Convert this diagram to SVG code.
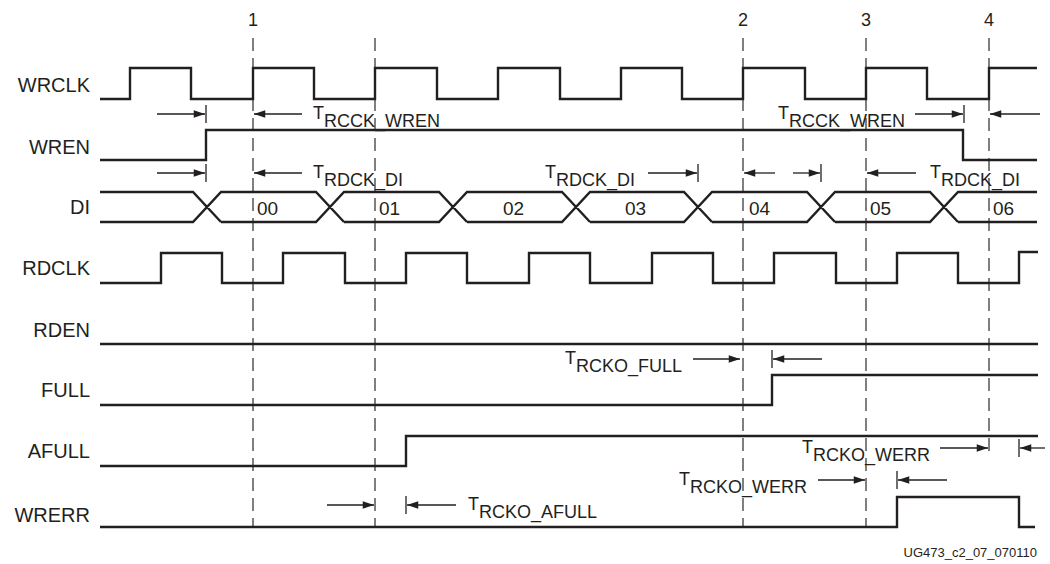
<svg xmlns="http://www.w3.org/2000/svg" width="1050" height="564" viewBox="0 0 1050 564">
<style>
  .bg{fill:#ffffff}
  .wave{fill:none;stroke:#231f20;stroke-width:2.4;stroke-linejoin:miter;stroke-linecap:butt}
  .dash{fill:none;stroke:#555555;stroke-width:1.5;stroke-dasharray:13 7}
  .arr{fill:none;stroke:#231f20;stroke-width:1.3}
  .tick{fill:none;stroke:#231f20;stroke-width:1.3}
  .sig{font-family:"Liberation Sans",Arial,sans-serif;font-size:20px;fill:#231f20;text-anchor:end}
  .num{font-family:"Liberation Sans",Arial,sans-serif;font-size:18px;fill:#231f20;text-anchor:middle}
  .val{font-family:"Liberation Sans",Arial,sans-serif;font-size:19px;fill:#231f20}
  .t{font-family:"Liberation Sans",Arial,sans-serif;font-size:18px;fill:#231f20}
  .foot{font-family:"Liberation Sans",Arial,sans-serif;font-size:13px;fill:#231f20;text-anchor:end}
</style>
<defs>
  <marker id="ah" markerUnits="userSpaceOnUse" viewBox="0 0 12 8" refX="12" refY="4" markerWidth="12" markerHeight="7.5" orient="auto">
    <path d="M0,0 L12,4 L0,8 Z" fill="#231f20"/>
  </marker>
</defs>
<rect class="bg" x="0" y="0" width="1050" height="564"/>

<g id="markers">
  <g id="m1"><text class="num" x="253" y="26">1</text><line class="dash" x1="253" y1="38" x2="253" y2="528"/></g>
  <g id="m0"><line class="dash" x1="375" y1="38" x2="375" y2="528"/></g>
  <g id="m2"><text class="num" x="743" y="26">2</text><line class="dash" x1="743" y1="38" x2="743" y2="528"/></g>
  <g id="m3"><text class="num" x="866" y="26">3</text><line class="dash" x1="866" y1="38" x2="866" y2="528"/></g>
  <g id="m4"><text class="num" x="989" y="26">4</text><line class="dash" x1="989" y1="38" x2="989" y2="458"/></g>
</g>

<g id="wrclk">
  <text class="sig" x="90" y="92">WRCLK</text>
  <path class="wave" d="M100,99 H130 V68 H191 V99 H253 V68 H314 V99 H375 V68 H437 V99 H498 V68 H560 V99 H621 V68 H682 V99 H743 V68 H805 V99 H866 V68 H927 V99 H989 V68 H1037"/>
</g>
<g id="wren">
  <text class="sig" x="90" y="154">WREN</text>
  <path class="wave" d="M100,160 H206 V130 H963 V160 H1037"/>
</g>
<g id="di">
  <text class="sig" x="90" y="214">DI</text>
  <path class="wave" d="M100,192 H193 L221,222 M100,222 H193 L221,192 H316 L344,222 M221,222 H316 L344,192 H439 L467,222 M344,222 H439 L467,192 H562 L590,222 M467,222 H562 L590,192 H684 L712,222 M590,222 H684 L712,192 H807 L835,222 M712,222 H807 L835,192 H930 L958,222 M835,222 H930 L958,192 H1037 M958,222 H1037"/>
  <text class="val" x="257" y="215">00</text>
  <text class="val" x="379" y="215">01</text>
  <text class="val" x="503" y="215">02</text>
  <text class="val" x="625" y="215">03</text>
  <text class="val" x="749" y="215">04</text>
  <text class="val" x="870" y="215">05</text>
  <text class="val" x="993" y="215">06</text>
</g>
<g id="rdclk">
  <text class="sig" x="90" y="275">RDCLK</text>
  <path class="wave" d="M100,283 H161 V253 H222 V283 H283 V253 H345 V283 H406 V253 H467 V283 H529 V253 H590 V283 H652 V253 H713 V283 H774 V253 H836 V283 H897 V253 H958 V283 H1019 V252 H1038"/>
</g>
<g id="rden">
  <text class="sig" x="90" y="337">RDEN</text>
  <path class="wave" d="M100,344 H1038"/>
</g>
<g id="full">
  <text class="sig" x="90" y="397">FULL</text>
  <path class="wave" d="M100,405 H772 V375 H1038"/>
</g>
<g id="afull">
  <text class="sig" x="90" y="458">AFULL</text>
  <path class="wave" d="M100,466 H406 V436 H1038"/>
</g>
<g id="wrerr">
  <text class="sig" x="90" y="522">WRERR</text>
  <path class="wave" d="M100,527 H897 V497 H1019 V527 H1035"/>
</g>

<g id="connectors">
  <line class="arr" x1="157" y1="114" x2="205" y2="114" marker-end="url(#ah)"/>
  <line class="tick" x1="206" y1="105" x2="206" y2="123"/>
  <line class="arr" x1="302" y1="114" x2="254" y2="114" marker-end="url(#ah)"/>
  <text class="t" x="313" y="119">T<tspan dy="7.5">RCCK_WREN</tspan></text>
  <text class="t" x="778" y="119">T<tspan dy="7.5">RCCK_WREN</tspan></text>
  <line class="arr" x1="915" y1="114" x2="963" y2="114" marker-end="url(#ah)"/>
  <line class="tick" x1="964" y1="105" x2="964" y2="123"/>
  <line class="arr" x1="1040" y1="114" x2="990" y2="114" marker-end="url(#ah)"/>

  <line class="arr" x1="157" y1="173" x2="205" y2="173" marker-end="url(#ah)"/>
  <line class="tick" x1="206" y1="164" x2="206" y2="182"/>
  <line class="arr" x1="302" y1="173" x2="254" y2="173" marker-end="url(#ah)"/>
  <text class="t" x="313" y="178">T<tspan dy="7.5">RDCK_DI</tspan></text>
  <text class="t" x="545" y="178">T<tspan dy="7.5">RDCK_DI</tspan></text>
  <line class="arr" x1="648" y1="173" x2="697" y2="173" marker-end="url(#ah)"/>
  <line class="tick" x1="698" y1="164" x2="698" y2="182"/>
  <line class="arr" x1="775" y1="173" x2="744" y2="173" marker-end="url(#ah)"/>
  <line class="arr" x1="793" y1="173" x2="820" y2="173" marker-end="url(#ah)"/>
  <line class="tick" x1="821" y1="164" x2="821" y2="182"/>
  <line class="arr" x1="916" y1="173" x2="867" y2="173" marker-end="url(#ah)"/>
  <text class="t" x="930" y="178">T<tspan dy="7.5">RDCK_DI</tspan></text>

  <text class="t" x="565" y="364">T<tspan dy="7.5">RCKO_FULL</tspan></text>
  <line class="arr" x1="693" y1="359" x2="740" y2="359" marker-end="url(#ah)"/>
  <line class="tick" x1="772" y1="350" x2="772" y2="368"/>
  <line class="arr" x1="822" y1="359" x2="773" y2="359" marker-end="url(#ah)"/>

  <text class="t" x="802" y="453">T<tspan dy="7.5">RCKO_WERR</tspan></text>
  <line class="arr" x1="940" y1="448" x2="988" y2="448" marker-end="url(#ah)"/>
  <line class="tick" x1="1019" y1="439" x2="1019" y2="457"/>
  <line class="arr" x1="1045" y1="448" x2="1020" y2="448" marker-end="url(#ah)"/>

  <text class="t" x="679" y="485">T<tspan dy="7.5">RCKO_WERR</tspan></text>
  <line class="arr" x1="818" y1="480" x2="865" y2="480" marker-end="url(#ah)"/>
  <line class="tick" x1="897" y1="471" x2="897" y2="489"/>
  <line class="arr" x1="947" y1="480" x2="898" y2="480" marker-end="url(#ah)"/>

  <line class="arr" x1="327" y1="505" x2="374" y2="505" marker-end="url(#ah)"/>
  <line class="tick" x1="406" y1="496" x2="406" y2="514"/>
  <line class="arr" x1="456" y1="505" x2="407" y2="505" marker-end="url(#ah)"/>
  <text class="t" x="468" y="510">T<tspan dy="7.5">RCKO_AFULL</tspan></text>
</g>

<text class="foot" x="1037" y="557">UG473_c2_07_070110</text>
</svg>
